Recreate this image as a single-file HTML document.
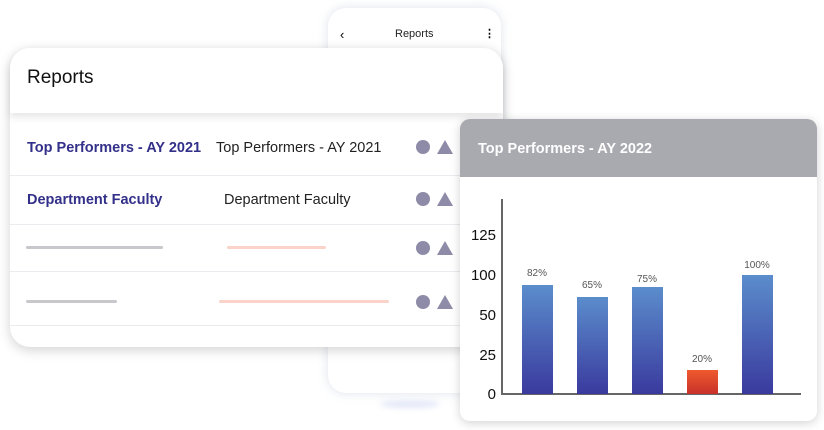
<!DOCTYPE html>
<html><head><style>
*{margin:0;padding:0;box-sizing:border-box}
body{width:824px;height:430px;background:#fff;position:relative;overflow:hidden;font-family:"Liberation Sans",sans-serif}
.a{position:absolute}
.sep{position:absolute;left:10px;width:450px;height:1px;background:#ececf0}
.c{position:absolute;width:14px;height:14px;border-radius:50%;background:#8e8ba8}
.t{position:absolute;width:0;height:0;border-left:8px solid transparent;border-right:8px solid transparent;border-bottom:14px solid #8e8ba8}
.bar{position:absolute;width:31px;background:linear-gradient(#5b8dcc,#3a3a9e)}
.yl{position:absolute;width:30px;text-align:right;left:466px;font-size:15px;color:#111}
.pl{position:absolute;width:50px;text-align:center;font-size:10px;color:#555}
</style></head><body>
<div class="a" style="left:328px;top:8px;width:173px;height:385px;border-radius:18px;background:#fff;box-shadow:0 0 10px rgba(120,140,180,.25)"></div>
<div class="a" style="left:340px;top:27px;font-size:13px">&lsaquo;</div>
<div class="a" style="left:395px;top:28px;font-size:11px;color:#222">Reports</div>
<div class="a" style="left:484px;top:27px;font-size:11px;font-weight:bold">&#8942;</div>
<div class="a" style="left:380px;top:400px;width:60px;height:8px;border-radius:50%;background:#e4e8f8;filter:blur(3px)"></div>

<div class="a" style="left:10px;top:48px;width:493px;height:299px;border-radius:20px;background:#fff;box-shadow:0 3px 12px rgba(0,0,0,.18)"></div>
<div class="a" style="left:10px;top:48px;width:493px;height:65px;border-radius:20px 20px 0 0;background:#fff;box-shadow:0 4px 8px rgba(0,0,0,.10)"></div>
<div class="a" style="left:27px;top:67px;font-size:19px;color:#111">Reports</div>
<div class="sep" style="top:175px"></div><div class="sep" style="top:224px"></div>
<div class="sep" style="top:271px"></div><div class="sep" style="top:325px"></div>
<div class="a" style="left:27px;top:140px;font-size:14.5px;font-weight:bold;color:#33308a">Top Performers - AY 2021</div>
<div class="a" style="left:216px;top:140px;font-size:14.5px;color:#222">Top Performers - AY 2021</div>
<div class="a" style="left:27px;top:192px;font-size:14.5px;font-weight:bold;color:#33308a">Department Faculty</div>
<div class="a" style="left:224px;top:192px;font-size:14.5px;color:#222">Department Faculty</div>
<div class="a" style="left:26px;top:246px;width:137px;height:3px;background:#c8c8cc;border-radius:2px"></div>
<div class="a" style="left:227px;top:246px;width:99px;height:3px;background:#fbd3c8;border-radius:2px"></div>
<div class="a" style="left:26px;top:300px;width:91px;height:3px;background:#c8c8cc;border-radius:2px"></div>
<div class="a" style="left:219px;top:300px;width:170px;height:3px;background:#fbd3c8;border-radius:2px"></div>
<div class="c" style="left:416px;top:140px"></div><div class="t" style="left:437px;top:140px"></div>
<div class="c" style="left:416px;top:192px"></div><div class="t" style="left:437px;top:192px"></div>
<div class="c" style="left:416px;top:241px"></div><div class="t" style="left:437px;top:241px"></div>
<div class="c" style="left:416px;top:295px"></div><div class="t" style="left:437px;top:295px"></div>

<div class="a" style="left:460px;top:119px;width:357px;height:302px;border-radius:10px;background:#fff;box-shadow:0 2px 10px rgba(0,0,0,.18);overflow:hidden">
<div style="height:58px;background:#a9a9b0"></div></div>
<div class="a" style="left:478px;top:141px;font-size:14.5px;font-weight:bold;color:#fff">Top Performers - AY 2022</div>
<div class="a" style="left:501px;top:199px;width:2px;height:196px;background:#666"></div>
<div class="a" style="left:501px;top:393px;width:300px;height:2px;background:#666"></div>
<div class="yl" style="top:227px">125</div>
<div class="yl" style="top:267px">100</div>
<div class="yl" style="top:307px">50</div>
<div class="yl" style="top:347px">25</div>
<div class="yl" style="top:386px">0</div>
<div class="bar" style="left:522px;top:285px;height:109px"></div>
<div class="bar" style="left:577px;top:297px;height:97px"></div>
<div class="bar" style="left:632px;top:287px;height:107px"></div>
<div class="bar" style="left:687px;top:370px;height:24px;background:linear-gradient(#ef5a2e,#c8322a)"></div>
<div class="bar" style="left:742px;top:275px;height:119px"></div>
<div class="pl" style="left:512px;top:268px">82%</div>
<div class="pl" style="left:567px;top:280px">65%</div>
<div class="pl" style="left:622px;top:274px">75%</div>
<div class="pl" style="left:677px;top:354px">20%</div>
<div class="pl" style="left:732px;top:260px">100%</div>
</body></html>
